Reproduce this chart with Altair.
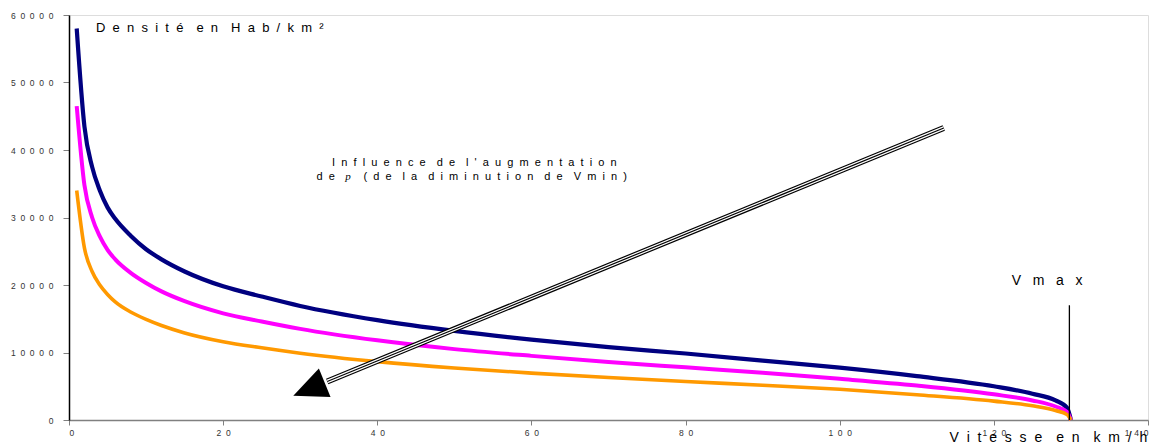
import altair as alt
import pandas as pd

# ---- data ----
vitesse = [1, 2, 3, 4, 5, 6, 8, 10, 12, 15, 20, 25, 30, 40, 50, 60, 70, 80, 90,
           100, 110, 120, 125, 128, 129.5, 130]
dens_bleu = [58000, 43500, 37500, 34000, 31500, 29800, 27300, 25300, 23800, 22000,
             19800, 18300, 16900, 14800, 13200, 11900, 10800, 9850, 8800,
             7750, 6500, 5000, 3900, 2900, 1800, 0]
dens_magenta = [46500, 34800, 30000, 27200, 25200, 23800, 21800, 20300, 19050, 17600,
                15800, 14600, 13500, 11800, 10500, 9500, 8600, 7800, 7000,
                6100, 5100, 3800, 2900, 2000, 1200, 0]
dens_orange = [34000, 25500, 22000, 20000, 18600, 17500, 16000, 14900, 14000, 12900,
               11600, 10700, 9900, 8650, 7700, 6950, 6300, 5700, 5150,
               4550, 3750, 2800, 2100, 1400, 800, 0]
series_names = ["bleu", "magenta", "orange"]
series_colors = ["#000080", "#FF00FF", "#FF9900"]
series_widths = [4.2, 4.0, 3.6]

x_ticks = [0, 20, 40, 60, 80, 100, 120, 140]
y_ticks = [0, 10000, 20000, 30000, 40000, 50000, 60000]

# annotation anchors (data units)
vmax = 129.8
vmax_top = 17000
arrow_start = (113.5, 43260)
arrow_end = (33.5, 5700)
arrow_tip = (29.1, 3600)

NB = "\u00a0"
EN = "\u2002"


def spaced(s, gap=NB * 2, wordgap=EN * 2):
    return wordgap.join(gap.join(list(w)) for w in s.split(" "))


rows = []
for name, vals in zip(series_names, [dens_bleu, dens_magenta, dens_orange]):
    for xv, yv in zip(vitesse, vals):
        rows.append({"v": xv, "d": yv, "serie": name})
df = pd.DataFrame(rows)

xscale = alt.Scale(domain=[0, 140], nice=False, zero=True)
yscale = alt.Scale(domain=[0, 60000], nice=False)

digit_expr = "replace(datum.label, regexp('([0-9])(?=[0-9])', 'g'), '$1" + NB + NB + "')"

layers = []
for name, col, w in zip(series_names, series_colors, series_widths):
    layers.append(
        alt.Chart(df[df.serie == name]).mark_line(color=col, strokeWidth=w, interpolate="monotone").encode(
            x=alt.X("v:Q", scale=xscale,
                    axis=alt.Axis(values=x_ticks, title=None, format="d", labelExpr=digit_expr,
                                  grid=False, domainColor="#808080", domainWidth=1.5,
                                  tickColor="#808080", tickSize=5, labelFontSize=8.5,
                                  labelColor="#333333", labelFont="Liberation Sans",
                                  labelPadding=3)),
            y=alt.Y("d:Q", scale=yscale,
                    axis=alt.Axis(values=y_ticks, title=None, format="d", labelExpr=digit_expr,
                                  grid=False, domainColor="#000000", domainWidth=1.5,
                                  tickColor="#808080", tickSize=6, labelFontSize=8.5,
                                  labelColor="#333333", labelFont="Liberation Sans",
                                  labelPadding=10)),
        )
    )

vmax_df = pd.DataFrame({"x": [vmax], "y": [0], "y2": [vmax_top]})
layers.append(alt.Chart(vmax_df).mark_rule(color="black", strokeWidth=1.3).encode(
    x="x:Q", y="y:Q", y2="y2:Q"))

arr_df = pd.DataFrame({"x": [arrow_start[0]], "y": [arrow_start[1]],
                       "x2": [arrow_end[0]], "y2": [arrow_end[1]]})
for col, w in [("black", 6.0), ("white", 3.6), ("black", 1.2)]:
    layers.append(alt.Chart(arr_df).mark_rule(color=col, strokeWidth=w).encode(
        x="x:Q", y="y:Q", x2="x2:Q", y2="y2:Q"))

tip_df = pd.DataFrame({"x": [arrow_tip[0]], "y": [arrow_tip[1]]})
layers.append(alt.Chart(tip_df).mark_point(
    shape="M0,0L-0.9,2L0.9,2Z", filled=True, color="black", opacity=1,
    size=1156, angle=247.6, strokeWidth=0).encode(x="x:Q", y="y:Q"))

texts = [
    (spaced("Densité en Hab/km²"), 3.5, 57550, "left", 13, "normal", "Liberation Sans"),
    (spaced("Influence de l'augmentation"), 52.6, 37630, "center", 11, "normal", "Liberation Sans"),
    (spaced("de"), 34.5, 35560, "right", 11, "normal", "Liberation Sans"),
    ("p", 36.2, 35560, "center", 11, "italic", "Liberation Serif"),
    (spaced("(de la diminution de Vmin)"), 38.2, 35560, "left", 11, "normal", "Liberation Sans"),
    (spaced("Vmax", gap=NB * 3), 126.9, 20000, "center", 14, "normal", "Liberation Sans"),
    (spaced("Vitesse en km/h"), 139.9, -3260, "right", 14, "normal", "Liberation Sans"),
]
for t, xv, yv, al, fs, fst, fnt in texts:
    tdf = pd.DataFrame({"x": [xv], "y": [yv], "t": [t]})
    layers.append(alt.Chart(tdf).mark_text(
        align=al, baseline="alphabetic", fontSize=fs, font=fnt, fontStyle=fst,
        color="black").encode(x="x:Q", y="y:Q", text="t:N"))

chart = alt.layer(*layers).properties(
    width=1079, height=405,
    autosize=alt.AutoSizeParams(type="none"),
    padding={"left": 61, "top": 7, "right": 4, "bottom": 23},
).configure_view(stroke=None).configure(background="white")

chart.save("out.html", embed_options={"renderer": "svg", "actions": False})
